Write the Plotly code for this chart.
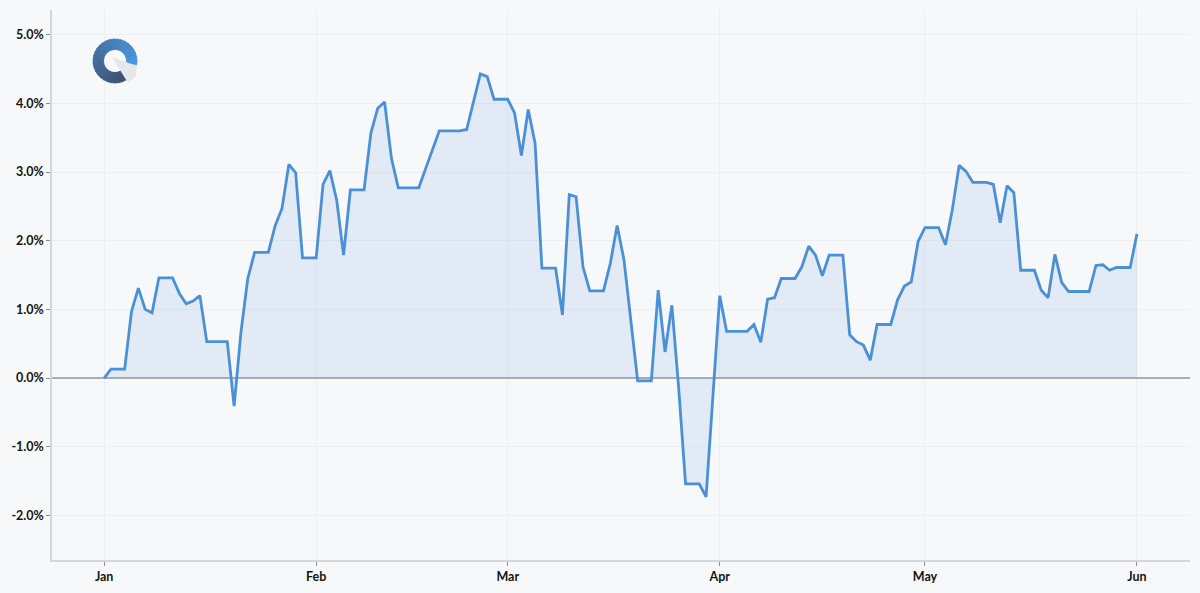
import math
import pandas as pd
import plotly.graph_objects as go

# Daily cumulative return (%) from Jan 1 to Jun 1
start_date = "2023-01-01"
end_date = "2023-06-01"

jan = [0.00, 0.13, 0.13, 0.13, 0.97, 1.31, 1.00, 0.95, 1.46, 1.46, 1.46, 1.23, 1.08, 1.12, 1.20, 0.53,
       0.53, 0.53, 0.53, -0.41, 0.67, 1.45, 1.83, 1.83, 1.83, 2.22, 2.47, 3.11, 2.99, 1.75, 1.75]
feb = [1.75, 2.82, 3.02, 2.59, 1.79, 2.74, 2.74, 2.74, 3.57, 3.93, 4.02, 3.20, 2.77, 2.77, 2.77, 2.77,
       3.05, 3.34, 3.60, 3.60, 3.60, 3.60, 3.62, 4.02, 4.43, 4.39, 4.06, 4.06]
mar = [4.06, 3.86, 3.24, 3.91, 3.42, 1.60, 1.60, 1.60, 0.92, 2.67, 2.64, 1.62, 1.27, 1.27, 1.27, 1.67,
       2.22, 1.72, 0.84, -0.04, -0.04, -0.04, 1.28, 0.38, 1.06, -0.15, -1.54, -1.54, -1.54, -1.73, -0.30]
apr = [1.20, 0.68, 0.68, 0.68, 0.68, 0.78, 0.52, 1.15, 1.17, 1.45, 1.45, 1.45, 1.62, 1.92, 1.79, 1.49,
       1.79, 1.79, 1.79, 0.63, 0.53, 0.48, 0.26, 0.78, 0.78, 0.78, 1.14, 1.34, 1.40, 1.99]
may = [2.19, 2.19, 2.19, 1.94, 2.45, 3.10, 3.01, 2.85, 2.85, 2.85, 2.82, 2.26, 2.80, 2.70, 1.57, 1.57,
       1.57, 1.28, 1.17, 1.80, 1.39, 1.26, 1.26, 1.26, 1.26, 1.64, 1.65, 1.57, 1.61, 1.61, 1.61]
jun = [2.10]

y_ticks = [-2, -1, 0, 1, 2, 3, 4, 5]
y_tick_labels = ["-2.0%", "-1.0%", "0.0%", "1.0%", "2.0%", "3.0%", "4.0%", "5.0%"]
x_ticks = ["2023-01-01", "2023-02-01", "2023-03-01", "2023-04-01", "2023-05-01", "2023-06-01"]
x_tick_labels = ["Jan", "Feb", "Mar", "Apr", "May", "Jun"]

dates = pd.date_range(start_date, end_date, freq="D")
values = jan + feb + mar + apr + may + jun

BG = "#f7f8fa"
LINE = "#4a90d9"
W, H = 1200, 593
ML, MR, MT, MB = 52, 10, 10, 33

fig = go.Figure()
fig.add_trace(go.Scatter(
    x=dates, y=values,
    mode="lines",
    line=dict(color=LINE, width=2.8),
    fill="tozeroy",
    fillcolor="rgba(74,144,217,0.12)",
    hoverinfo="x+y",
))


# --- logo (ring + pointer), drawn in pixel space then mapped to paper ---
def px(x, y):
    return (x - ML) / (W - ML - MR), (H - MB - y) / (H - MT - MB)


def poly(points):
    pts = [px(a, b) for a, b in points]
    return "M " + " L ".join(f"{a:.5f},{b:.5f}" for a, b in pts) + " Z"


def mix(c1, c2, t):
    return "#" + "".join(f"{round(c1[i] + (c2[i] - c1[i]) * t):02x}" for i in range(3))


cx, cy, r_out, r_in = 115, 61, 22, 11.5
blue, dark = (74, 150, 222), (62, 82, 112)
n = 30
a0, a1 = -10, 300
shapes = []
for i in range(n):
    t0 = a0 + (a1 - a0) * i / n
    t1 = a0 + (a1 - a0) * (i + 1.1) / n
    pts = []
    for a in (t0, t1):
        pts.append((cx + r_out * math.cos(math.radians(a)), cy - r_out * math.sin(math.radians(a))))
    for a in (t1, t0):
        pts.append((cx + r_in * math.cos(math.radians(a)), cy - r_in * math.sin(math.radians(a))))
    col = mix(blue, dark, i / (n - 1))
    shapes.append(dict(type="path", xref="paper", yref="paper", path=poly(pts),
                       fillcolor=col, line=dict(width=0.8, color=col), layer="above"))
shapes.append(dict(type="path", xref="paper", yref="paper",
                   path=poly([(112, 57), (137, 66), (136, 76), (128, 83)]),
                   fillcolor="#e6e7ea", line=dict(width=0), layer="above"))

fig.update_layout(
    width=W, height=H,
    margin=dict(l=ML, r=MR, t=MT, b=MB),
    paper_bgcolor=BG,
    plot_bgcolor=BG,
    showlegend=False,
    font=dict(family="Lato, sans-serif", size=12.5, color="#141414", weight="bold"),
    shapes=shapes,
)
fig.update_xaxes(
    range=["2022-12-24 09:00", "2023-06-08 18:00"],
    tickvals=x_ticks, ticktext=x_tick_labels,
    showgrid=True, gridcolor="#eceef1", gridwidth=1,
    showline=True, linecolor="#d3d6da", linewidth=1.5,
    ticks="outside", ticklen=4, tickcolor="#8a8d92", tickwidth=1,
    zeroline=False,
)
fig.update_yaxes(
    range=[-2.65, 5.36],
    tickvals=y_ticks, ticktext=y_tick_labels,
    showgrid=True, gridcolor="#eceef1", gridwidth=1,
    showline=True, linecolor="#d3d6da", linewidth=1.5,
    ticks="outside", ticklen=4, tickcolor="#8a8d92", tickwidth=1,
    zeroline=True, zerolinecolor="#a9adb4", zerolinewidth=1.5,
)

# remove the browser's default body margin so the figure sits at the window origin
fig.write_html("out.html", config={"displayModeBar": False},
               post_script="document.body.style.margin='0';"
                           "document.body.style.background='" + BG + "';")
